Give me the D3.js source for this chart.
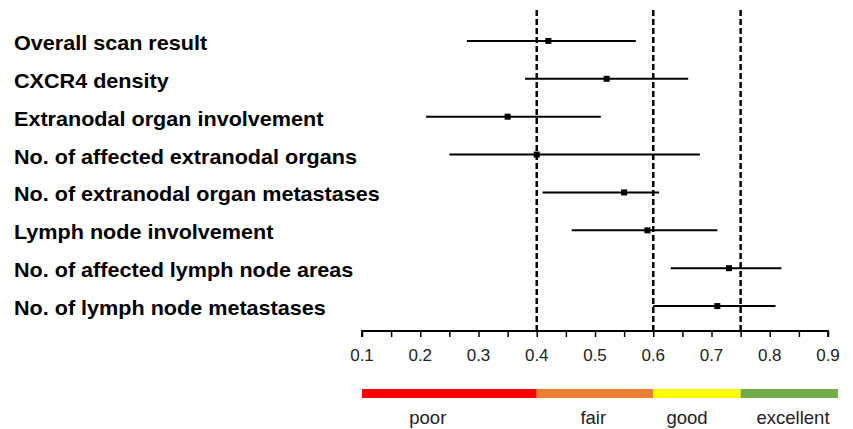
<!DOCTYPE html>
<html><head><meta charset="utf-8">
<script src="https://cdn.jsdelivr.net/npm/d3@7"></script>
<style>body{margin:0;background:#fff}svg{display:block}text{font-family:"Liberation Sans",Arial,sans-serif}</style>
</head><body><svg id="c" width="853" height="429"></svg>
<script>
const categories = ["Overall scan result","CXCR4 density","Extranodal organ involvement","No. of affected extranodal organs","No. of extranodal organ metastases","Lymph node involvement","No. of affected lymph node areas","No. of lymph node metastases"];
const estimates = [0.42,0.52,0.35,0.40,0.55,0.59,0.73,0.71];
const lower = [0.28,0.38,0.21,0.25,0.41,0.46,0.63,0.60];
const upper = [0.57,0.66,0.51,0.68,0.61,0.71,0.82,0.81];
const thresholds = [0.4,0.6,0.75];
const tickLabels = [0.1,0.2,0.3,0.4,0.5,0.6,0.7,0.8,0.9];
const minorTicks = [0.1,0.15,0.2,0.25,0.3,0.35,0.4,0.45,0.5,0.55,0.6,0.65,0.7,0.75,0.8,0.85,0.9];
const bandStarts = [0.1,0.4,0.6,0.75];
const bandEnds = [0.4,0.6,0.75,0.917];
const bandColors = ["#ff0000","#ed7d31","#ffff00","#70ad47"];
const bandLabels = ["poor","fair","good","excellent"];
const bandLabelPos = [0.213,0.497,0.658,0.84];

const svg = d3.select("#c");
const x = d3.scaleLinear().domain([0.1,0.9]).range([362,828]);
const y = d3.scaleBand().domain(categories).range([22,325]).paddingInner(0).paddingOuter(0);
const yc = d => y(d) + y.bandwidth()/2;
const axisY = 331;

// labels
svg.append("g").selectAll("text").data(categories).join("text")
  .attr("x",14).attr("y",d=>yc(d)+9)
  .attr("font-size",20).attr("font-weight","bold").attr("fill","#000")
  .attr("transform","translate(14,0) scale(1.08,1) translate(-14,0)")
  .text(d=>d);

// thresholds
svg.append("g").selectAll("line").data(thresholds).join("line")
  .attr("x1",d=>x(d)).attr("x2",d=>x(d)).attr("y1",10).attr("y2",axisY)
  .attr("stroke","#000").attr("stroke-width",2.5).attr("stroke-dasharray","6,3");

// error bars
const g = svg.append("g");
g.selectAll("line").data(categories).join("line")
  .attr("x1",(d,i)=>x(lower[i])).attr("x2",(d,i)=>x(upper[i]))
  .attr("y1",d=>yc(d)).attr("y2",d=>yc(d))
  .attr("stroke","#000").attr("stroke-width",2);
g.selectAll("rect").data(categories).join("rect")
  .attr("x",(d,i)=>x(estimates[i])-3).attr("y",d=>yc(d)-3)
  .attr("width",6).attr("height",6).attr("fill","#000");

// axis
const ax = svg.append("g").attr("transform",`translate(0,${axisY})`);
ax.call(d3.axisBottom(x).tickValues(minorTicks).tickSize(6).tickFormat(""));
ax.select(".domain").attr("stroke","#000").attr("stroke-width",1.8).attr("d",`M${x(0.1)},6V0H${x(0.9)}V6`);
ax.selectAll(".tick line").attr("stroke","#000").attr("stroke-width",1.5);
svg.append("g").selectAll("text").data(tickLabels).join("text")
  .attr("x",d=>x(d)).attr("y",361).attr("text-anchor","middle")
  .attr("font-size",17).attr("fill","#222").text(d=>d3.format(".1f")(d));

// color band
svg.append("g").selectAll("rect").data(bandColors).join("rect")
  .attr("x",(d,i)=>x(bandStarts[i])).attr("width",(d,i)=>x(bandEnds[i])-x(bandStarts[i]))
  .attr("y",389).attr("height",9).attr("fill",d=>d);
svg.append("g").selectAll("text").data(bandLabels).join("text")
  .attr("x",(d,i)=>x(bandLabelPos[i])).attr("y",424).attr("text-anchor","middle")
  .attr("font-size",18.5).attr("fill","#222").text(d=>d);
</script></body></html>
